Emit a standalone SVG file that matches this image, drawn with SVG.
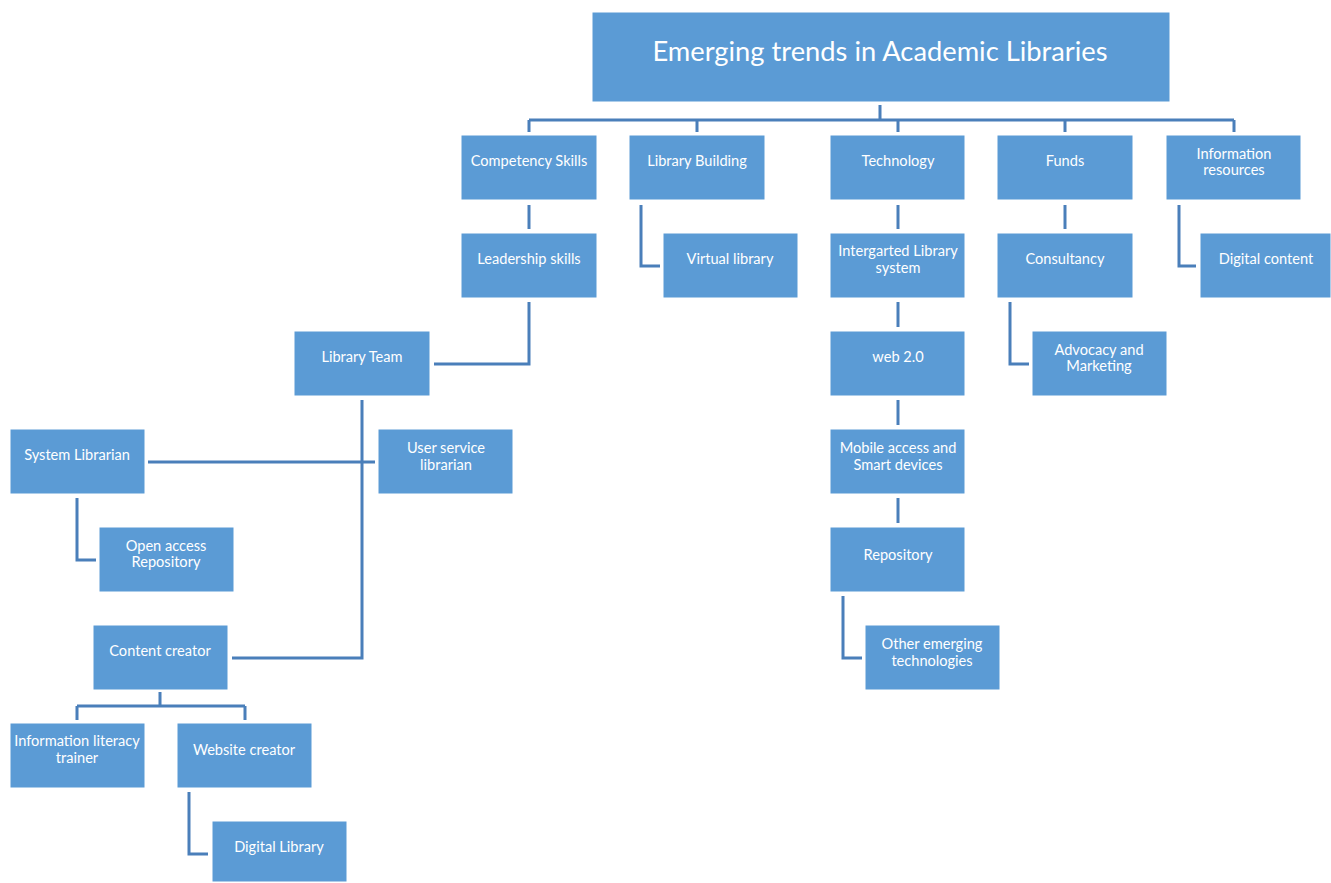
<svg xmlns="http://www.w3.org/2000/svg" width="1331" height="883" viewBox="0 0 1331 883">
<style>
.box{fill:#5B9BD5;stroke:#ffffff;stroke-width:1}
.t{font-family:Lato,"Liberation Sans",sans-serif;font-size:14.6px;fill:#ffffff;text-anchor:middle;dominant-baseline:central}
.title{font-family:Lato,"Liberation Sans",sans-serif;font-size:27.3px;fill:#ffffff;text-anchor:middle;dominant-baseline:central}
.c{fill:none;stroke:#4A7FBA;stroke-width:3}
</style>
<rect width="1331" height="883" fill="#ffffff"/>
<g id="connectors">
<path class="c" d="M880,105 V120 M529,120 H1234 M529,120 V132 M697,120 V132 M898,120 V132 M1065,120 V132 M1234,120 V132"/>
<path class="c" d="M529,205 V229"/>
<path class="c" d="M641,205 V266 H660"/>
<path class="c" d="M898,205 V229"/>
<path class="c" d="M1065,205 V229"/>
<path class="c" d="M1179,205 V266 H1196"/>
<path class="c" d="M529,302 V364 H434"/>
<path class="c" d="M898,302 V327"/>
<path class="c" d="M1010,302 V364 H1029"/>
<path class="c" d="M362,400 V658 H232"/>
<path class="c" d="M148,462 H375"/>
<path class="c" d="M898,400 V425"/>
<path class="c" d="M77,498 V560 H96"/>
<path class="c" d="M898,498 V523"/>
<path class="c" d="M843,596 V658 H862"/>
<path class="c" d="M160,692 V706 M77,706 H245 M77,706 V720 M245,706 V720"/>
<path class="c" d="M189,792 V854 H208"/>
</g>
<g id="root"><rect class="box" x="592" y="12" width="578" height="90"/><text class="title" x="880" y="50">Emerging trends in Academic Libraries</text></g>
<g id="competency"><rect class="box" x="461" y="135" width="136" height="65"/><text class="t" x="529" y="160">Competency Skills</text></g>
<g id="building"><rect class="box" x="629" y="135" width="136" height="65"/><text class="t" x="697" y="160">Library Building</text></g>
<g id="technology"><rect class="box" x="830" y="135" width="135" height="65"/><text class="t" x="898" y="160">Technology</text></g>
<g id="funds"><rect class="box" x="997" y="135" width="136" height="65"/><text class="t" x="1065" y="160">Funds</text></g>
<g id="inforesources"><rect class="box" x="1166" y="135" width="135" height="65"/><text class="t" x="1234" y="153">Information</text><text class="t" x="1234" y="169">resources</text></g>
<g id="leadership"><rect class="box" x="461" y="233" width="136" height="65"/><text class="t" x="529" y="258">Leadership skills</text></g>
<g id="virtual"><rect class="box" x="663" y="233" width="135" height="65"/><text class="t" x="730" y="258">Virtual library</text></g>
<g id="ils"><rect class="box" x="830" y="233" width="135" height="65"/><text class="t" x="898" y="250">Intergarted Library</text><text class="t" x="898" y="267">system</text></g>
<g id="consultancy"><rect class="box" x="997" y="233" width="136" height="65"/><text class="t" x="1065" y="258">Consultancy</text></g>
<g id="digitalcontent"><rect class="box" x="1200" y="233" width="131" height="65"/><text class="t" x="1266" y="258">Digital content</text></g>
<g id="team"><rect class="box" x="294" y="331" width="136" height="65"/><text class="t" x="362" y="356">Library Team</text></g>
<g id="web2"><rect class="box" x="830" y="331" width="135" height="65"/><text class="t" x="898" y="356">web 2.0</text></g>
<g id="advocacy"><rect class="box" x="1032" y="331" width="135" height="65"/><text class="t" x="1099" y="349">Advocacy and</text><text class="t" x="1099" y="365">Marketing</text></g>
<g id="syslib"><rect class="box" x="10" y="429" width="135" height="65"/><text class="t" x="77" y="454">System Librarian</text></g>
<g id="userservice"><rect class="box" x="378" y="429" width="135" height="65"/><text class="t" x="446" y="447">User service</text><text class="t" x="446" y="464">librarian</text></g>
<g id="mobile"><rect class="box" x="830" y="429" width="135" height="65"/><text class="t" x="898" y="447">Mobile access and</text><text class="t" x="898" y="464">Smart devices</text></g>
<g id="openaccess"><rect class="box" x="99" y="527" width="135" height="65"/><text class="t" x="166" y="545">Open access</text><text class="t" x="166" y="561">Repository</text></g>
<g id="repository"><rect class="box" x="830" y="527" width="135" height="65"/><text class="t" x="898" y="554">Repository</text></g>
<g id="contentcreator"><rect class="box" x="93" y="625" width="135" height="65"/><text class="t" x="160" y="650">Content creator</text></g>
<g id="otheremerging"><rect class="box" x="865" y="625" width="135" height="65"/><text class="t" x="932" y="643">Other emerging</text><text class="t" x="932" y="660">technologies</text></g>
<g id="infolit"><rect class="box" x="10" y="723" width="135" height="65"/><text class="t" x="77" y="740">Information literacy</text><text class="t" x="77" y="757">trainer</text></g>
<g id="website"><rect class="box" x="177" y="723" width="135" height="65"/><text class="t" x="244" y="749">Website creator</text></g>
<g id="digitallibrary"><rect class="box" x="212" y="821" width="135" height="61"/><text class="t" x="279" y="846">Digital Library</text></g>
</svg>
